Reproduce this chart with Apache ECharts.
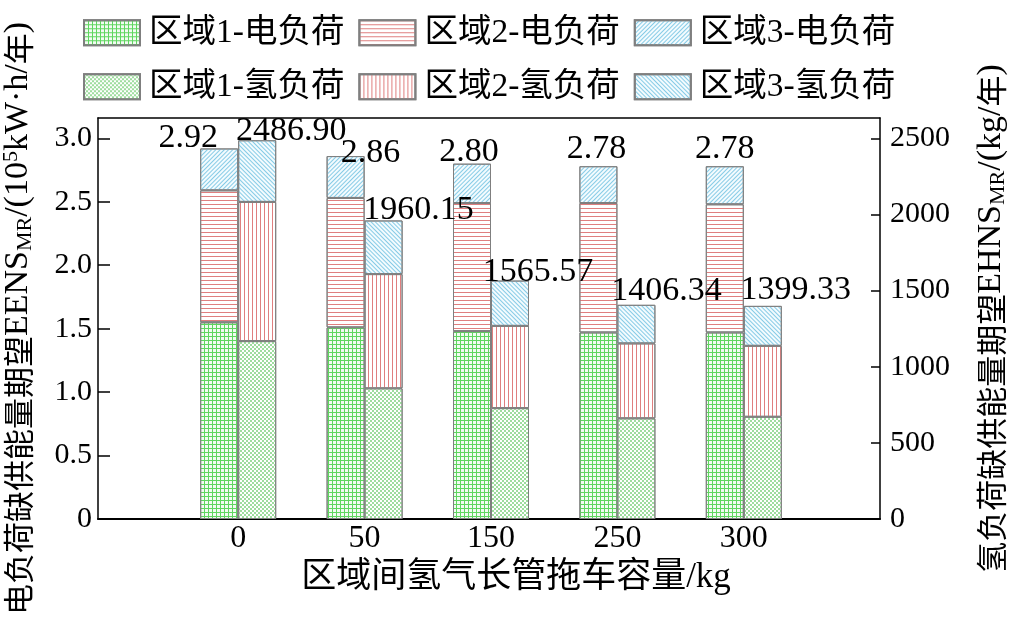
<!DOCTYPE html>
<html>
<head>
<meta charset="utf-8">
<script src="https://cdn.jsdelivr.net/npm/echarts@6/dist/echarts.min.js"></script>
<style>
html,body{margin:0;padding:0;background:#fff;}
#chart{width:1010px;height:636px;}
</style>
</head>
<body>
<div id="chart"></div>
<script>
// ---------------- data ----------------
const categories = ['0', '50', '150', '250', '300'];
// electric load shortage (10^5 kW·h/yr), stacked by region
const elecRegion1 = [1.55, 1.51, 1.48, 1.47, 1.47];
const elecRegion2 = [1.04, 1.02, 1.01, 1.02, 1.01];
const elecRegion3 = [0.33, 0.33, 0.31, 0.29, 0.30];
const elecTotals  = [2.92, 2.86, 2.80, 2.78, 2.78];
// hydrogen load shortage (kg/yr), stacked by region
const h2Region1 = [1168, 858, 728, 661, 671];
const h2Region2 = [914, 750, 540, 492, 466];
const h2Region3 = [404.90, 352.15, 297.57, 253.34, 262.33];
const h2Totals  = [2486.90, 1960.15, 1565.57, 1406.34, 1399.33];
// axis ticks
const leftTicks  = [0, 0.5, 1.0, 1.5, 2.0, 2.5, 3.0];
const rightTicks = [0, 500, 1000, 1500, 2000, 2500];
const leftMax = 3.16;
const rightMax = 2633;

// ---------------- styling ----------------
const SERIF = "'Liberation Serif','Times New Roman','Noto Sans CJK SC',serif";
const elecLabelOffset = [[-31, 7], [25, 14], [-3, 5], [-2, 0], [0, 0]];
const h2LabelOffset   = [[34, 8], [35, 7], [28, 9], [30, 3], [33, 1]];

const border = {borderColor: '#7f7f7f', borderWidth: 1};
const styles = {
  e1: Object.assign({color: '#f2fbf2', decal: {symbol: 'rect', symbolSize: 1, color: '#5fd65f',
        dashArrayX: [[1, 0], [1, 3]], dashArrayY: [1, 0, 3, 0]}}, border),
  h1: Object.assign({color: '#ffffff', decal: {symbol: 'rect', symbolSize: 1, color: '#9edc9e',
        dashArrayX: [[2, 2], [0, 2, 2, 0]], dashArrayY: [2, 0]}}, border),
  e2: Object.assign({color: '#ffffff', decal: {symbol: 'rect', symbolSize: 1, color: '#df7f7f',
        dashArrayX: [1, 0], dashArrayY: [1, 3]}}, border),
  h2: Object.assign({color: '#ffffff', decal: {symbol: 'rect', symbolSize: 1, color: '#df7f7f',
        dashArrayX: [1, 3], dashArrayY: [1, 0]}}, border),
  e3: Object.assign({color: '#f3fbfe', decal: {symbol: 'rect', symbolSize: 1, color: '#86cbe6',
        dashArrayX: [1, 2], dashArrayY: [1, 0], rotation: Math.PI / 4}}, border),
  h3: Object.assign({color: '#f3fbfe', decal: {symbol: 'rect', symbolSize: 1, color: '#86cbe6',
        dashArrayX: [1, 2], dashArrayY: [1, 0], rotation: -Math.PI / 4}}, border)
};

function barSeries(name, data, stack, yIdx, style) {
  return {
    name: name, type: 'bar', xAxisIndex: 2, yAxisIndex: yIdx, stack: stack,
    data: data, barWidth: 38, barGap: '0%', itemStyle: style,
    emphasis: {disabled: true}, animation: false
  };
}

const labelBase = {show: true, position: 'top', distance: 0, fontSize: 34, fontFamily: SERIF, color: '#000'};
const elecTop = barSeries('区域3-电负荷', elecRegion3.map((v, i) => ({
  value: v, label: {offset: elecLabelOffset[i]}})), 'e', 2, styles.e3);
elecTop.label = Object.assign({formatter: p => elecTotals[p.dataIndex].toFixed(2)}, labelBase);
const h2Top = barSeries('区域3-氢负荷', h2Region3.map((v, i) => ({
  value: v, label: {offset: h2LabelOffset[i]}})), 'h', 3, styles.h3);
h2Top.label = Object.assign({formatter: p => h2Totals[p.dataIndex].toFixed(2)}, labelBase);

const tickStyle = {fontSize: 30, fontFamily: SERIF, color: '#000'};
const nameRich = {
  c: {fontSize: 31, fontFamily: "'Noto Sans CJK SC'", color: '#000'},
  l: {fontSize: 34, fontFamily: SERIF, color: '#000'},
  sub: {fontSize: 22, fontFamily: SERIF, color: '#000', verticalAlign: 'bottom', padding: [14, 0, 0, 0]},
  sup: {fontSize: 22, fontFamily: SERIF, color: '#000', verticalAlign: 'top', padding: [0, 0, 14, 0]}
};
const legendText = {fontSize: 33.5, fontFamily: SERIF, color: '#000', padding: [0, 0, 0, 4]};

const option = {
  backgroundColor: '#fff',
  animation: false,
  grid: [
    {left: 98, right: 130, top: 118, bottom: 117, outerBoundsMode: 'none', containLabel: false},
    {left: 175, right: 203, top: 118, bottom: 117, outerBoundsMode: 'none', containLabel: false}
  ],
  legend: [
    {left: 83, top: 16, padding: 0, itemWidth: 56, itemHeight: 25, itemGap: 14,
     icon: 'rect', textStyle: legendText, selectedMode: false,
     data: ['区域1-电负荷', '区域2-电负荷', '区域3-电负荷']},
    {left: 83, top: 70, padding: 0, itemWidth: 56, itemHeight: 25, itemGap: 14,
     icon: 'rect', textStyle: legendText, selectedMode: false,
     data: ['区域1-氢负荷', '区域2-氢负荷', '区域3-氢负荷']}
  ],
  xAxis: [
    {gridIndex: 0, type: 'value', position: 'bottom', min: 0, max: 1,
     axisLine: {show: true, onZero: false, lineStyle: {color: '#000', width: 2}},
     axisTick: {show: false}, axisLabel: {show: false}, splitLine: {show: false}},
    {gridIndex: 0, type: 'value', position: 'top', min: 0, max: 1,
     axisLine: {show: true, onZero: false, lineStyle: {color: '#000', width: 1.5}},
     axisTick: {show: false}, axisLabel: {show: false}, splitLine: {show: false}},
    {gridIndex: 1, type: 'category', data: categories, position: 'bottom',
     axisLine: {show: false}, axisTick: {show: false},
     axisLabel: {fontSize: 32, fontFamily: SERIF, color: '#000', margin: 4},
     name: '区域间氢气长管拖车容量/kg', nameLocation: 'middle', nameGap: 40,
     nameTextStyle: {fontSize: 35, fontFamily: SERIF, color: '#000', padding: [0, 0, 0, 50]}}
  ],
  yAxis: [
    {gridIndex: 0, type: 'value', position: 'left', min: 0, max: leftMax,
     axisLine: {show: true, onZero: false, lineStyle: {color: '#000', width: 1.5}},
     axisTick: {show: true, inside: true, length: 12, customValues: leftTicks, lineStyle: {color: '#000', width: 1.5}},
     axisLabel: Object.assign({margin: 6, customValues: leftTicks,
       formatter: v => v === 0 ? '0' : v.toFixed(1)}, tickStyle),
     splitLine: {show: false},
     name: '{c|电负荷缺供能量期望}{l|EENS}{sub|MR}{l|/(10}{sup|5}{l|kW·h/}{c|年}{l|)}',
     nameLocation: 'middle', nameRotate: 90, nameGap: 62,
     nameTextStyle: {rich: nameRich}},
    {gridIndex: 0, type: 'value', position: 'right', min: 0, max: rightMax,
     axisLine: {show: true, onZero: false, lineStyle: {color: '#000', width: 1.5}},
     axisTick: {show: true, inside: true, length: 9, customValues: rightTicks, lineStyle: {color: '#000', width: 1.5}},
     axisLabel: Object.assign({margin: 10, customValues: rightTicks,
       formatter: v => String(v)}, tickStyle),
     splitLine: {show: false},
     name: '{c|氢负荷缺供能量期望}{l|EHNS}{sub|MR}{l|/(kg/}{c|年}{l|)}',
     nameLocation: 'middle', nameRotate: 90, nameGap: 93,
     nameTextStyle: {rich: nameRich}},
    {gridIndex: 1, type: 'value', min: 0, max: leftMax, show: false, splitLine: {show: false}},
    {gridIndex: 1, type: 'value', min: 0, max: rightMax, show: false, splitLine: {show: false}}
  ],
  series: [
    barSeries('区域1-电负荷', elecRegion1, 'e', 2, styles.e1),
    barSeries('区域2-电负荷', elecRegion2, 'e', 2, styles.e2),
    elecTop,
    barSeries('区域1-氢负荷', h2Region1, 'h', 3, styles.h1),
    barSeries('区域2-氢负荷', h2Region2, 'h', 3, styles.h2),
    h2Top
  ]
};

const chart = echarts.init(document.getElementById('chart'), null, {renderer: 'canvas'});
chart.setOption(option);
</script>
</body>
</html>
